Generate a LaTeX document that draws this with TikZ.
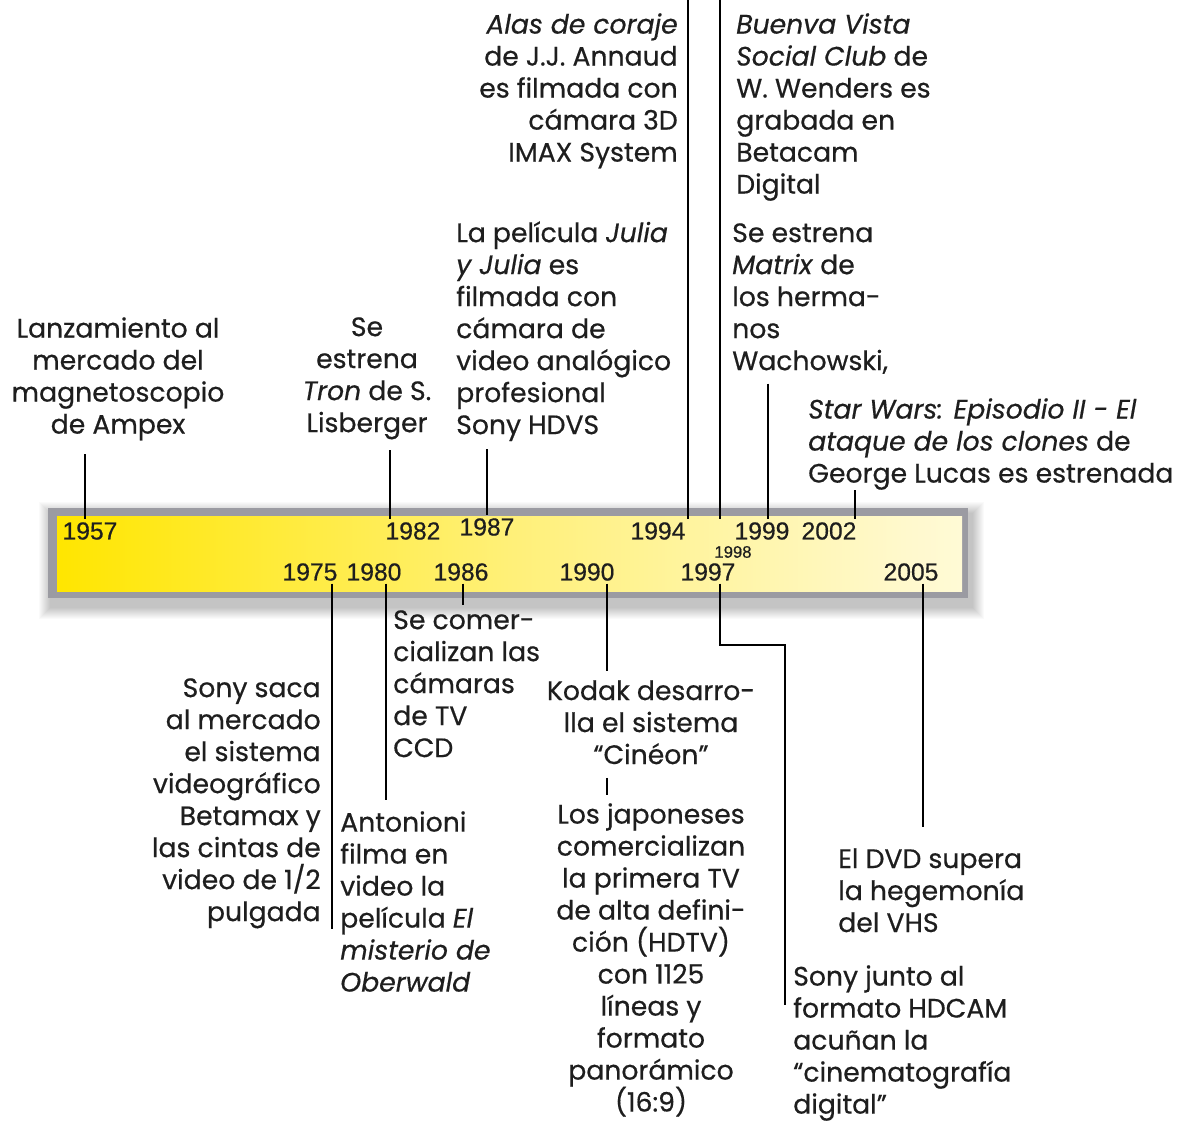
\documentclass[tikz,border=0pt]{standalone}
\usepackage{fontspec}
\setmainfont{Poppins}[FakeBold=0.5]
\newfontfamily\yearfont{Liberation Sans}[FakeBold=0.5]

% Colors for the fading bar
\definecolor{barYellow}{RGB}{255,230,0}
\definecolor{barMid}{RGB}{255,240,120}
\definecolor{barLight}{RGB}{255,249,205}
\definecolor{frameGray}{RGB}{155,155,162}
\definecolor{textGray}{RGB}{30,30,30}
\pgfdeclarehorizontalshading{barfade}{100bp}{color(0bp)=(barYellow); color(25bp)=(barYellow); color(50bp)=(barMid); color(72bp)=(barLight); color(90bp)=(white); color(100bp)=(white)}

\begin{document}
\begin{tikzpicture}[
  x=0.75pt, y=-0.75pt,
  event/.style={font=\fontsize{20}{24}\selectfont, inner sep=0pt, text=textGray}, % text of each event
  year/.style={font=\yearfont\fontsize{18.5}{20}\selectfont, inner sep=2pt, text=textGray}, % years on the bar
  smallyear/.style={font=\yearfont\fontsize{12.5}{14}\selectfont, inner sep=1pt, text=textGray},
  link/.style={line width=1.3pt, black} % vertical connectors
]

% Page and margins
\fill[white] (0,0) rectangle (1197,1121);
\useasboundingbox (0,0) rectangle (1197,1121);

% Soft shadow under the bar
\foreach \s in {1,...,12}
  \fill[black, opacity=0.02] (48-\s+3,508-\s+6) rectangle (968+\s+4,598+\s+9);

% Bar: gray frame and fading fill
\fill[frameGray] (48,508) rectangle (968,598);
\shade[shading=barfade] (57,516) rectangle (962,591);

% Years above the middle of the bar
\node[year] (y1957) at (90,531) {1957};
\node[year] (y1982) at (413,531) {1982};
\node[year] (y1987) at (487,527) {1987};
\node[year] (y1994) at (658,531) {1994};
\node[smallyear] (y1998) at (733,552) {1998};
\node[year] (y1999) at (762,531) {1999};
\node[year] (y2002) at (829,531) {2002};

% Years below the middle of the bar
\node[year] (y1975) at (310,572) {1975};
\node[year] (y1980) at (374,572) {1980};
\node[year] (y1986) at (461,572) {1986};
\node[year] (y1990) at (587,572) {1990};
\node[year] (y1997) at (708,572) {1997};
\node[year] (y2005) at (911,572) {2005};

% Events above the bar
\node[event, anchor=north, align=center] (t1957) at (118,317)
  {Lanzamiento al\\mercado del\\magnetoscopio\\de Ampex};
\node[event, anchor=north, align=center] (t1982) at (367,317)
  {Se\\estrena\\\textit{Tron} de S.\\Lisberger};
\node[event, anchor=north west, align=left] (t1987) at (456,221)
  {La película \textit{Julia}\\\textit{y Julia} es\\filmada con\\cámara de\\video analógico\\profesional\\Sony HDVS};
\node[event, anchor=north east, align=right] (t1994) at (678,13)
  {\textit{Alas de coraje}\\de J.J. Annaud\\es filmada con\\cámara 3D\\IMAX System};
\node[event, anchor=north west, align=left] (t1998) at (736,13)
  {\textit{Buenva Vista}\\\textit{Social Club} de\\W. Wenders es\\grabada en\\Betacam\\Digital};
\node[event, anchor=north west, align=left] (t1999) at (732,223)
  {Se estrena\\\textit{Matrix} de\\los herma-\\nos\\Wachowski,};
\node[event, anchor=north west, align=left] (t2002) at (808,398)
  {\textit{Star Wars: Episodio II - El}\\\textit{ataque de los clones} de\\George Lucas es estrenada};

% Events below the bar
\node[event, anchor=north east, align=right] (t1975) at (321,678)
  {Sony saca\\al mercado\\el sistema\\videográfico\\Betamax y\\las cintas de\\video de 1/2\\pulgada};
\node[event, anchor=north west, align=left] (t1980) at (340,811)
  {Antonioni\\filma en\\video la\\película \textit{El}\\\textit{misterio de}\\\textit{Oberwald}};
\node[event, anchor=north west, align=left] (t1986) at (393,610)
  {Se comer-\\cializan las\\cámaras\\de TV\\CCD};
\node[event, anchor=north, align=center] (t1990) at (651,680)
  {Kodak desarro-\\lla el sistema\\“Cinéon”};
\node[event, anchor=north, align=center] (t1990b) at (651,803)
  {Los japoneses\\comercializan\\la primera TV\\de alta defini-\\ción (HDTV)\\con 1125\\líneas y\\formato\\panorámico\\(16:9)};
\node[event, anchor=north west, align=left] (t2005) at (838,848)
  {El DVD supera\\la hegemonía\\del VHS};
\node[event, anchor=north west, align=left] (t1997) at (793,965)
  {Sony junto al\\formato HDCAM\\acuñan la\\“cinematografía\\digital”};

% x positions of the connectors
\coordinate (x1957) at (85,0);
\coordinate (x1982) at (390,0);
\coordinate (x1987) at (487,0);
\coordinate (x1994) at (688,0);
\coordinate (x1998) at (720,0);
\coordinate (x1999) at (768,0);
\coordinate (x2002) at (855,0);
\coordinate (x1975) at (332,0);
\coordinate (x1980) at (386,0);
\coordinate (x1986) at (463,0);
\coordinate (x1990) at (607,0);
\coordinate (x1997) at (720,0);
\coordinate (k1997) at (785,645);
\coordinate (e1997) at (785,1005);
\coordinate (x2005) at (923,0);

% Connectors above the bar
\draw[link, shorten <=10pt] (x1957 |- t1957.south) -- (x1957 |- y1957.north);
\draw[link, shorten <=8pt] (x1982 |- t1982.south) -- (x1982 |- y1982.north);
\draw[link, shorten <=6pt] (x1987 |- t1987.south) -- (x1987 |- y1987.north);
\draw[link] (x1994) -- (x1994 |- y1994.north);
\draw[link] (x1998) -- (x1998 |- y1994.north);
\draw[link, shorten <=7pt] (x1999 |- t1999.south) -- (x1999 |- y1999.north);
\draw[link] (x2002 |- t2002.south) -- (x2002 |- y2002.north);

% Connectors below the bar
\draw[link] (x1975 |- y1975.south) -- (x1975 |- t1975.south);
\draw[link, shorten >=8pt] (x1980 |- y1980.south) -- (x1980 |- t1980.north);
\draw[link, shorten >=4pt] (x1986 |- y1986.south) -- (x1986 |- t1986.north);
\draw[link, shorten >=7pt] (x1990 |- y1990.south) -- (x1990 |- t1990.north);
\draw[link, shorten <=10pt, shorten >=6pt] (t1990.south -| x1990) -- (t1990b.north -| x1990);
\draw[link] (x1997 |- y1997.south) |- (k1997) -- (e1997);
\draw[link, shorten >=16pt] (x2005 |- y2005.south) -- (x2005 |- t2005.north);

\end{tikzpicture}
\end{document}
